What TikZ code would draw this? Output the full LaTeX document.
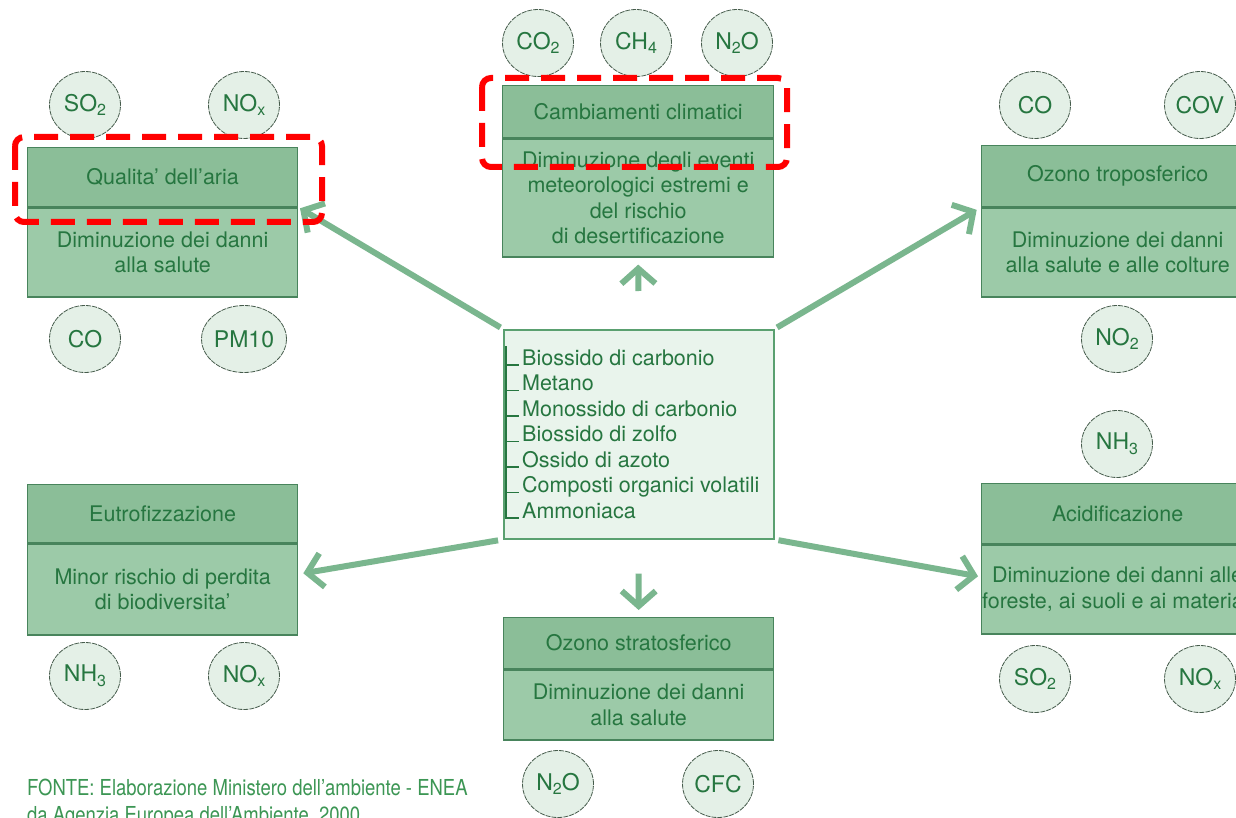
\documentclass[tikz,border=0pt]{standalone}
\usepackage{fontspec}
\setmainfont{TeX Gyre Heros}
\newfontfamily\condfont[FakeStretch=0.84,Ligatures=TeX]{TeX Gyre Heros}
\usetikzlibrary{arrows.meta,shapes.geometric,calc}

\definecolor{headfill}{RGB}{139,190,152}
\definecolor{bodyfill}{RGB}{156,202,168}
\definecolor{boxline}{RGB}{72,132,92}
\definecolor{txtgreen}{RGB}{38,118,64}
\definecolor{gasfill}{RGB}{228,240,231}
\definecolor{gasline}{RGB}{70,92,76}
\definecolor{ctrfill}{RGB}{233,244,236}
\definecolor{ctrline}{RGB}{90,160,112}
\definecolor{arrowgreen}{RGB}{122,182,142}
\definecolor{markred}{RGB}{255,0,0}
\definecolor{footgreen}{RGB}{60,150,84}

% chemical subscript
\newcommand{\chemsub}[1]{\raisebox{-0.2em}{\fontsize{16}{16}\selectfont #1}}

\begin{document}
\begin{tikzpicture}[x=1pt,y=-1pt,
  boxfont/.style={font=\fontsize{21.5}{25.5}\selectfont},
  head/.style={boxfont, draw=boxline, line width=1.3pt, fill=headfill,
    text=txtgreen, inner sep=0pt, anchor=north west},
  body/.style={boxfont, draw=boxline, line width=1.3pt, fill=bodyfill,
    text=txtgreen, align=center, inner sep=0pt, anchor=north},
  gas/.style={ellipse, draw=gasline, line width=0.8pt,
    dash pattern=on 5pt off 1pt, fill=gasfill,
    minimum width=71pt, minimum height=67pt, inner sep=0pt,
    text=txtgreen, font=\fontsize{23}{24}\selectfont},
  flow/.style={draw=arrowgreen, line width=6pt,
    -{Straight Barb[length=15pt,width=34pt]}},
  redbox/.style={draw=markred, line width=6pt,
    dash pattern=on 24pt off 12pt, rounded corners=9pt},
  itemtext/.style={boxfont, text=txtgreen, inner sep=0pt, anchor=base west},
  srctext/.style={anchor=base west, inner sep=0pt, text=footgreen,
    font=\condfont\fontsize{22}{27}\selectfont}
]
\clip (0,0) rectangle (1236,818);
\fill[white] (0,0) rectangle (1236,818);

% ---- effect boxes: heading + description ----
\node[head, minimum width=270pt, minimum height=59pt] (qa-h) at (27,147) {Qualita' dell'aria};
\node[body, minimum width=270pt, minimum height=89pt] (qa-b) at (qa-h.south)
  {Diminuzione dei danni\\alla salute};

\node[head, minimum width=271pt, minimum height=52pt] (cc-h) at (502,85) {Cambiamenti climatici};
\node[body, minimum width=271pt, minimum height=118pt] (cc-b) at (cc-h.south)
  {Diminuzione degli eventi\\meteorologici estremi e\\del rischio\\di desertificazione};

\node[head, minimum width=272pt, minimum height=61pt] (ot-h) at (981,145) {Ozono troposferico};
\node[body, minimum width=272pt, minimum height=89pt] (ot-b) at (ot-h.south)
  {Diminuzione dei danni\\alla salute e alle colture};

\node[head, minimum width=270pt, minimum height=58pt] (eu-h) at (27,484) {Eutrofizzazione};
\node[body, minimum width=270pt, minimum height=91pt] (eu-b) at (eu-h.south)
  {Minor rischio di perdita\\di biodiversita'};

\node[head, minimum width=272pt, minimum height=60pt] (ac-h) at (981,483) {Acidificazione};
\node[body, minimum width=272pt, minimum height=89pt] (ac-b) at (ac-h.south)
  {Diminuzione dei danni alle\\foreste, ai suoli e ai materiali};

\node[head, minimum width=270pt, minimum height=51pt] (os-h) at (503,617) {Ozono stratosferico};
\node[body, minimum width=270pt, minimum height=70pt] (os-b) at (os-h.south)
  {Diminuzione dei danni\\alla salute};

% ---- central list of pollutants ----
\node[draw=ctrline, line width=1.5pt, fill=ctrfill, minimum width=270pt,
  minimum height=209pt, inner sep=0pt, anchor=north west] (ctr) at (503,329) {};
\draw[txtgreen, line width=1.2pt] (506,346) -- (506,518.5);
\foreach \t [count=\i] in {Biossido di carbonio, Metano, Monossido di carbonio,
    Biossido di zolfo, Ossido di azoto, Composti organici volatili, Ammoniaca} {
  \node[itemtext] (item\i) at (522,{365+25.5*(\i-1)}) {\t};
  \draw[txtgreen, line width=1.2pt] (506,{365+25.5*(\i-1)}) -- (519,{365+25.5*(\i-1)});
}

% ---- pollutant circles ----
\node[gas] (qa-so2) at (85,105) {SO\chemsub{2}};
\node[gas] (qa-nox) at (244,105) {NO\chemsub{x}};
\node[gas] (qa-co) at (85,339) {CO};
\node[gas] (qa-pm) at (244,339) {PM10};

\node[gas] (cc-co2) at (538,43) {CO\chemsub{2}};
\node[gas] (cc-ch4) at (636,43) {CH\chemsub{4}};
\node[gas] (cc-n2o) at (737,43) {N\chemsub{2}O};

\node[gas] (ot-co) at (1035,105) {CO};
\node[gas] (ot-cov) at (1200,105) {COV};
\node[gas] (ot-no2) at (1117,339) {NO\chemsub{2}};

\node[gas] (ac-nh3) at (1117,444) {NH\chemsub{3}};
\node[gas] (ac-so2) at (1035,679) {SO\chemsub{2}};
\node[gas] (ac-nox) at (1200,679) {NO\chemsub{x}};

\node[gas] (eu-nh3) at (85,676) {NH\chemsub{3}};
\node[gas] (eu-nox) at (244,676) {NO\chemsub{x}};

\node[gas] (os-n2o) at (558,784) {N\chemsub{2}O};
\node[gas] (os-cfc) at (718,784) {CFC};

% ---- arrows from the list to the effects ----
\coordinate (eu-in) at ($(eu-b.north east)+(5,30)$);
\coordinate (ac-in) at ($(ac-b.north west)+(-3,32)$);
\draw[flow, shorten <=3pt, shorten >=2pt] (ctr.north west) -- (qa-h.south east);
\draw[flow, shorten <=3pt, shorten >=5pt] (ctr.north east) -- (ot-h.south west);
\draw[flow, shorten <=5pt] (ctr.south west) -- (eu-in);
\draw[flow, shorten <=4pt] (ctr.south east) -- (ac-in);
\draw[flow, shorten <=38pt, shorten >=7pt] (ctr.north) -- (cc-b.south);
\draw[flow, shorten <=34pt, shorten >=7pt] (ctr.south) -- (os-h.north);

% ---- red highlights ----
\draw[redbox] (15,137) rectangle (322,222);
\draw[redbox] (482,78) rectangle (787,167);

% ---- source ----
\node[srctext] (src1) at (27,795) {FONTE: Elaborazione Ministero dell’ambiente - ENEA};
\node[srctext] (src2) at (27,822) {da Agenzia Europea dell’Ambiente, 2000};
\end{tikzpicture}
\end{document}
